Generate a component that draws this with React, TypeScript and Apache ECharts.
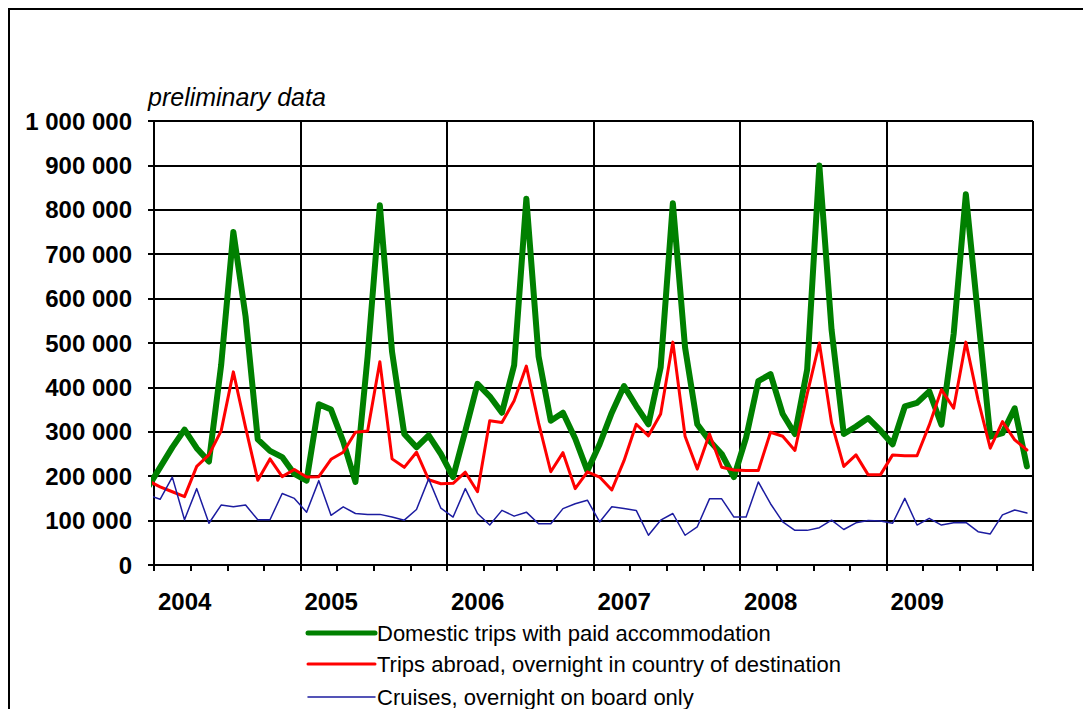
import React, { useEffect, useRef } from "react";
import * as echarts from "echarts";

// Years shown on the x axis (monthly data, Jan 2004 – Dec 2009)
const YEARS = ["2004", "2005", "2006", "2007", "2008", "2009"];

// Series names (legend)
const SERIES_NAMES = [
  "Domestic trips with paid accommodation",
  "Trips abroad, overnight in country of destination",
  "Cruises, overnight on board only",
];

// Values in thousands of trips. First value = Dec 2003 (only its lead-in segment is visible).
const DOMESTIC = [
  175,
  220, 265, 305, 263, 233, 450, 750, 560, 283, 257, 243, 205, // 2004
  190, 362, 350, 278, 187, 470, 810, 480, 295, 265, 292, 250, // 2005
  198, 302, 408, 380, 343, 450, 825, 470, 325, 343, 285, 212, // 2006
  272, 343, 403, 358, 317, 445, 815, 490, 317, 280, 250, 198, // 2007
  287, 414, 430, 340, 295, 440, 900, 530, 295, 312, 331, 303, // 2008
  272, 357, 365, 391, 316, 520, 835, 560, 289, 297, 353, 222, // 2009
];

const ABROAD = [
  190,
  176, 165, 154, 222, 248, 302, 435, 310, 191, 239, 199, 215, // 2004
  198, 199, 238, 254, 299, 302, 458, 239, 220, 254, 192, 183, // 2005
  184, 209, 165, 325, 321, 370, 448, 320, 210, 253, 172, 210, // 2006
  198, 169, 235, 317, 291, 340, 502, 290, 216, 295, 220, 214, // 2007
  213, 213, 299, 290, 258, 385, 500, 320, 222, 248, 203, 203, // 2008
  248, 246, 246, 315, 395, 353, 502, 372, 263, 323, 282, 259, // 2009
];

const CRUISES = [
  158,
  148, 198, 102, 172, 94, 135, 131, 135, 102, 102, 161, 150, // 2004
  119, 190, 112, 131, 116, 114, 114, 108, 101, 125, 194, 128, // 2005
  108, 172, 116, 90, 123, 110, 119, 93, 93, 127, 138, 146, // 2006
  97, 131, 127, 123, 67, 101, 116, 67, 86, 149, 149, 108, // 2007
  108, 187, 138, 97, 78, 78, 84, 101, 80, 95, 100, 99, // 2008
  94, 150, 90, 105, 90, 95, 96, 75, 70, 113, 124, 117, // 2009
];

const FONT = "'Liberation Sans', Arial, Helvetica, sans-serif";
const COLORS = ["#008000", "#ff0000", "#1c1ca0"];
const WIDTHS = [6, 3, 1.5];
const LEGEND_WIDTHS = [5, 3, 1.5];

// month index i (0 = Dec 2003) is plotted at mid-month: i - 0.5 on a 0..72 month scale
const toPoints = (arr: number[]) => arr.map((v, i) => [i - 0.5, v]);

const fmtThousands = (v: number) =>
  String(Math.round(v * 1000)).replace(/\B(?=(\d{3})+(?!\d))/g, " ");

export default function App() {
  const ref = useRef<HTMLDivElement>(null);

  useEffect(() => {
    if (!ref.current) return;
    const chart = echarts.init(ref.current, undefined, { renderer: "svg" });
    const seriesData = [DOMESTIC, ABROAD, CRUISES];

    const legendX = 300;
    const legendY = [625, 656, 689];
    const gridLine = { color: "#000", width: 2 };

    const option: any = {
      animation: false,
      backgroundColor: "#ffffff",
      grid: { left: 146, top: 113, width: 879, height: 444, containLabel: false },
      xAxis: [
        {
          type: "value",
          min: 0,
          max: 72,
          interval: 3,
          position: "bottom",
          axisLine: { show: true, onZero: false, lineStyle: gridLine },
          axisTick: { show: true, inside: false, length: 6, lineStyle: gridLine },
          axisLabel: { show: false },
          splitLine: { show: false },
        },
        {
          type: "value",
          min: 0,
          max: 72,
          interval: 12,
          position: "bottom",
          axisLine: { show: false, onZero: false },
          axisTick: { show: false },
          axisLabel: {
            show: true,
            formatter: (v: number) => YEARS[v / 12] ?? "",
            align: "left",
            padding: [0, 0, 0, 4],
            margin: 24,
            color: "#000",
            fontFamily: FONT,
            fontWeight: "bold",
            fontSize: 24,
          },
          splitLine: { show: true, lineStyle: gridLine },
        },
      ],
      yAxis: {
        type: "value",
        min: 0,
        max: 1000,
        interval: 100,
        axisLine: { show: true, onZero: false, lineStyle: gridLine },
        axisTick: { show: true, inside: false, length: 6, lineStyle: gridLine },
        axisLabel: {
          formatter: (v: number) => fmtThousands(v),
          margin: 22,
          color: "#000",
          fontFamily: FONT,
          fontWeight: "bold",
          fontSize: 24,
        },
        splitLine: { show: true, lineStyle: gridLine },
      },
      series: seriesData.map((arr, k) => ({
        name: SERIES_NAMES[k],
        type: "line",
        xAxisIndex: 0,
        data: toPoints(arr),
        symbol: "none",
        showSymbol: false,
        clip: true,
        lineStyle: { color: COLORS[k], width: WIDTHS[k], join: "round", cap: "round" },
        z: 2 + k,
      })),
      graphic: [
        {
          type: "rect",
          silent: true,
          shape: { x: 1, y: 1, width: 3000, height: 3000 },
          style: { fill: "none", stroke: "#000", lineWidth: 2 },
          z: 100,
        },
        {
          type: "text",
          x: 140,
          y: 89,
          style: {
            text: "preliminary data",
            font: `italic 25px ${FONT}`,
            fill: "#000",
            verticalAlign: "middle",
            align: "left",
          },
        },
        ...SERIES_NAMES.flatMap((name, k) => [
          {
            type: "line",
            shape: { x1: legendX, y1: legendY[k], x2: legendX + 67, y2: legendY[k] },
            style: { stroke: COLORS[k], lineWidth: LEGEND_WIDTHS[k], lineCap: "round" },
          },
          {
            type: "text",
            x: legendX + 69,
            y: legendY[k],
            style: {
              text: name,
              font: `22px ${FONT}`,
              fill: "#000",
              verticalAlign: "middle",
              align: "left",
            },
          },
        ]),
      ],
    };

    chart.setOption(option);
    return () => chart.dispose();
  }, []);

  return (
    <div
      ref={ref}
      style={{ width: 1083, height: 701, background: "#fff" }}
    />
  );
}
